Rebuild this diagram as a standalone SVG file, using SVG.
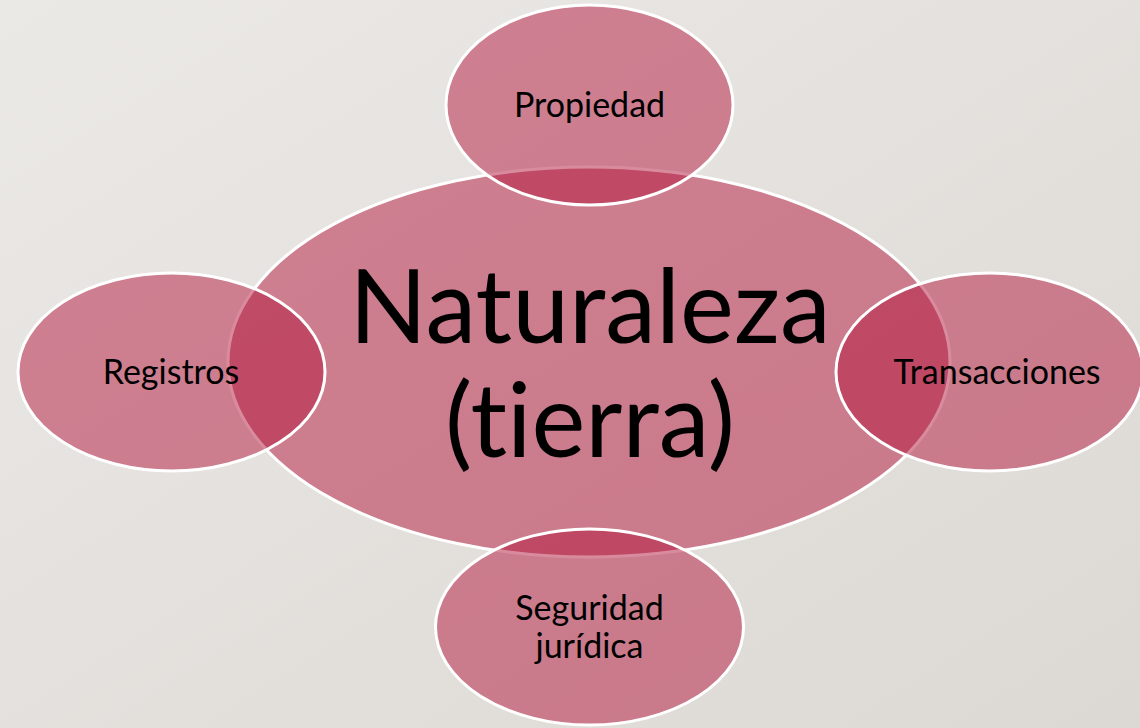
<svg xmlns="http://www.w3.org/2000/svg" width="1140" height="728" viewBox="0 0 1140 728">
  <defs>
    <linearGradient id="bg" x1="0" y1="0" x2="1" y2="1">
      <stop offset="0" stop-color="#ebe9e6"/>
      <stop offset="1" stop-color="#dcd9d4"/>
    </linearGradient>
    <style>
      .shape { fill: #b4183e; fill-opacity: 0.5; stroke: #ffffff; stroke-width: 3; }
      .label { font-family: Lato, "Noto Sans", "Liberation Sans", sans-serif; fill: #000000; text-anchor: middle; font-variant-ligatures: none; font-feature-settings: "liga" 0, "clig" 0; }
      .small { font-size: 34px; }
      .big { font-size: 102px; }
    </style>
  </defs>
  <rect x="0" y="0" width="1140" height="728" fill="url(#bg)"/>
  <g id="naturaleza">
    <ellipse class="shape" cx="589" cy="362" rx="361" ry="195"/>
    <text class="label big" x="590" y="343">Naturaleza</text>
    <text class="label big" x="590" y="457">(tierra)</text>
  </g>
  <g id="connectors"></g>
  <g id="propiedad">
    <ellipse class="shape" cx="589.5" cy="105" rx="143.5" ry="100"/>
    <text class="label small" x="589.5" y="117">Propiedad</text>
  </g>
  <g id="registros">
    <ellipse class="shape" cx="171.5" cy="372" rx="153.5" ry="99"/>
    <text class="label small" x="171" y="384">Registros</text>
  </g>
  <g id="transacciones">
    <ellipse class="shape" cx="989.5" cy="372" rx="153.5" ry="99"/>
    <text class="label small" x="997" y="384">Transacciones</text>
  </g>
  <g id="seguridad">
    <ellipse class="shape" cx="589.5" cy="627" rx="154" ry="98"/>
    <text class="label small" x="589.5" y="620">Seguridad</text>
    <text class="label small" x="589.5" y="658">jurídica</text>
  </g>
</svg>
